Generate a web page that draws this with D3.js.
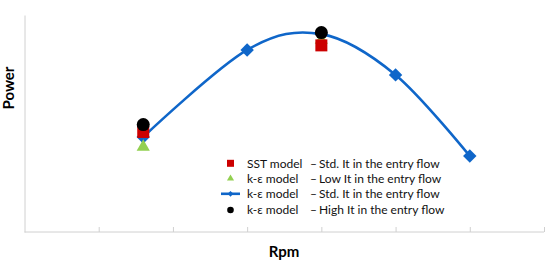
<!DOCTYPE html>
<html>
<head>
<meta charset="utf-8">
<script src="https://cdn.jsdelivr.net/npm/d3@7.9.0/dist/d3.min.js"></script>
<style>
  body { margin: 0; background: #fff; }
  svg { display: block; font-family: Lato, "Open Sans", sans-serif; }
</style>
</head>
<body>
<svg id="chart" width="550" height="263"></svg>
<script>
// Chart data
const rpmTicks = [1, 2, 3, 4, 5, 6, 7];
const rpmStd = [1.6, 3, 4, 5, 6];
const keStd = [43.8, 83.9, 91.2, 72.4, 35.0];
const rpmCases = [1.6, 4];
const sstStd = [46.1, 86.0];
const keLow = [39.2, 88.5];
const keHigh = [49.5, 91.9];

const legendModels = ["SST model", "k-ε model", "k-ε model", "k-ε model"];
const legendCases = ["Std. It in the entry flow", "Low It in the entry flow",
                     "Std. It in the entry flow", "High It in the entry flow"];

const svg = d3.select("#chart");

// Scales
const x = d3.scaleLinear().domain([0, 7]).range([24.5, 544]);
const y = d3.scaleLinear().domain([0, 100]).range([232, 15]);

// Axes (light grey, inside ticks on x, none on y)
const xAxis = svg.append("g")
    .attr("transform", `translate(0,${y(0)})`)
    .call(d3.axisBottom(x).tickValues(rpmTicks).tickSize(-5).tickFormat(""));
xAxis.select(".domain").attr("stroke", "#d0d0d0").attr("d", `M${x(0)},0H${x(7)}`);
xAxis.selectAll(".tick line").attr("stroke", "#d0d0d0");

const yAxis = svg.append("g")
    .attr("transform", `translate(${x(0)},0)`)
    .call(d3.axisLeft(y).tickValues([]).tickSize(0));
yAxis.select(".domain").attr("stroke", "#d0d0d0");

// Axis titles
svg.append("text")
    .attr("x", 284).attr("y", 257)
    .attr("text-anchor", "middle")
    .attr("font-size", 15).attr("font-weight", "bold")
    .text("Rpm");

svg.append("text")
    .attr("transform", "translate(14,88) rotate(-90)")
    .attr("text-anchor", "middle")
    .attr("font-size", 15).attr("font-weight", "bold")
    .text("Power");

// Blue smoothed line with diamonds
const blue = "#0f66c9";
const stdData = rpmStd.map((r, i) => ({ r, v: keStd[i] }));
const line = d3.line()
    .x(d => x(d.r))
    .y(d => y(d.v))
    .curve(d3.curveCardinal.tension(0));

svg.append("path")
    .datum(stdData)
    .attr("d", line)
    .attr("fill", "none")
    .attr("stroke", blue)
    .attr("stroke-width", 2.6);

const diamond = d3.symbol().type(d3.symbolSquare).size(90);
svg.selectAll(".dia")
    .data(stdData)
    .join("path")
    .attr("class", "dia")
    .attr("d", diamond)
    .attr("transform", d => `translate(${x(d.r)},${y(d.v)}) rotate(45)`)
    .attr("fill", blue);

// Other cases
const caseData = (vals) => rpmCases.map((r, i) => ({ r, v: vals[i] }));

svg.selectAll(".low")
    .data(caseData(keLow))
    .join("path")
    .attr("class", "low")
    .attr("d", d3.symbol().type(d3.symbolTriangle).size(75))
    .attr("transform", d => `translate(${x(d.r)},${y(d.v)})`)
    .attr("fill", "#92d050");

svg.selectAll(".sst")
    .data(caseData(sstStd))
    .join("rect")
    .attr("class", "sst")
    .attr("x", d => x(d.r) - 6).attr("y", d => y(d.v) - 6)
    .attr("width", 12).attr("height", 12)
    .attr("fill", "#cc0000");

svg.selectAll(".high")
    .data(caseData(keHigh))
    .join("circle")
    .attr("class", "high")
    .attr("cx", d => x(d.r)).attr("cy", d => y(d.v))
    .attr("r", 6.5)
    .attr("fill", "#000");

// Legend
const legend = svg.append("g").attr("font-size", 12).attr("fill", "#111");
const rowY = [163.3, 178.5, 193.8, 209];

legendModels.forEach((m, i) => {
    const g = legend.append("g").attr("transform", `translate(0,${rowY[i]})`);
    if (i === 0) {
        g.append("rect").attr("x", 227).attr("y", -3.5).attr("width", 7).attr("height", 7).attr("fill", "#cc0000");
    } else if (i === 1) {
        g.append("path").attr("d", d3.symbol().type(d3.symbolTriangle).size(22))
            .attr("transform", "translate(230.5,0)").attr("fill", "#92d050");
    } else if (i === 2) {
        g.append("line").attr("x1", 221).attr("x2", 240).attr("y1", 0).attr("y2", 0)
            .attr("stroke", blue).attr("stroke-width", 2.6);
        g.append("path").attr("d", d3.symbol().type(d3.symbolSquare).size(16))
            .attr("transform", "translate(230.5,0) rotate(45)").attr("fill", blue);
    } else {
        g.append("circle").attr("cx", 230.5).attr("cy", 1).attr("r", 3.3).attr("fill", "#000");
    }
    g.append("text").attr("x", 247).attr("y", 4.5).text(m);
    g.append("text").attr("x", 310).attr("y", 4.5).text("–");
    g.append("text").attr("x", 319).attr("y", 4.5).text(legendCases[i]);
});
</script>
</body>
</html>
